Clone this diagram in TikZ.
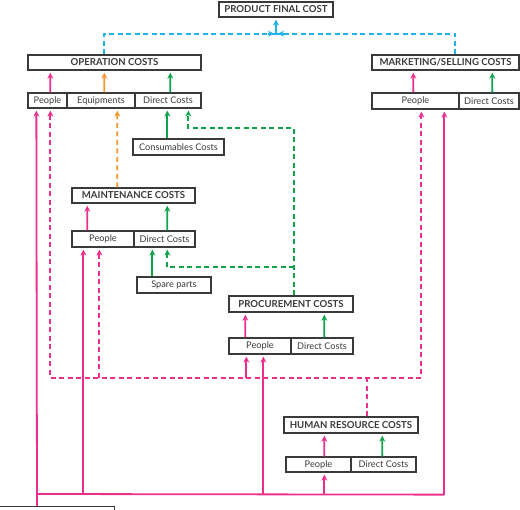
\documentclass[tikz,border=0pt]{standalone}
\usepackage{fontspec}
\setmainfont{Lato}
\usetikzlibrary{arrows.meta,calc}
\definecolor{boxc}{HTML}{3A3A3A}
\definecolor{pinkc}{HTML}{EC2F8C}
\definecolor{greenc}{HTML}{0FA34C}
\definecolor{orangec}{HTML}{F5962E}
\definecolor{bluec}{HTML}{1FB2EA}
\tikzset{
  title/.style={draw=boxc, line width=1.4pt, fill=white, inner sep=0pt, text=boxc,
    font=\bfseries\fontsize{9.6}{10}\selectfont, minimum height=15pt},
  cell/.style={draw=boxc, line width=1.3pt, fill=white, inner sep=0pt, text=boxc,
    font=\fontsize{9.2}{10}\selectfont, minimum height=15pt},
  conn/.style={line width=1.8pt, -{Stealth[length=6pt,width=6pt]}, shorten >=2pt},
  plain/.style={line width=1.8pt},
  pk/.style={draw=pinkc},
  gn/.style={draw=greenc},
  og/.style={draw=orangec},
  bl/.style={draw=bluec},
  dsh/.style={dash pattern=on 5pt off 3.5pt},
}
\begin{document}
\begin{tikzpicture}[x=1pt,y=-1pt]
\useasboundingbox (0,0) rectangle (520,510);
% nodes
\node[title, minimum width=114pt] (pfc) at (276,9.5) {PRODUCT FINAL COST};
\node[title, minimum width=173pt] (opc) at (114.5,62.5) {OPERATION COSTS};
\node[cell, minimum width=39pt] (opp) at (47.5,100.5) {People};
\node[cell, minimum width=68pt] (ope) at (101,100.5) {Equipments};
\node[cell, minimum width=66pt] (opd) at (168,100.5) {Direct Costs};
\node[title, minimum width=147pt] (mkt) at (445.5,62.5) {MARKETING/SELLING COSTS};
\node[cell, minimum width=87pt, minimum height=16pt] (mkp) at (415.5,101) {People};
\node[cell, minimum width=60pt, minimum height=16pt] (mkd) at (489,101) {Direct Costs};
\node[cell, minimum width=91pt, minimum height=16pt] (cons) at (178.5,147) {Consumables Costs};
\node[title, minimum width=123pt] (mnt) at (133.5,195.5) {MAINTENANCE COSTS};
\node[cell, minimum width=62pt, minimum height=16pt] (mnp) at (103,239) {People};
\node[cell, minimum width=61pt, minimum height=16pt] (mnd) at (164.5,239) {Direct Costs};
\node[cell, minimum width=74pt, minimum height=16pt] (spare) at (174,285) {Spare parts};
\node[title, minimum width=124pt, minimum height=16pt] (prc) at (291,304) {PROCUREMENT COSTS};
\node[cell, minimum width=62pt, minimum height=16pt] (prp) at (260,346) {People};
\node[cell, minimum width=62pt, minimum height=16pt] (prd) at (322,346) {Direct Costs};
\node[title, minimum width=134pt, minimum height=16pt] (hr) at (351,425) {HUMAN RESOURCE COSTS};
\node[cell, minimum width=65pt] (hrp) at (318.5,464.5) {People};
\node[cell, minimum width=65pt] (hrd) at (383.5,464.5) {Direct Costs};
\node[title, minimum width=124pt, minimum height=20pt, anchor=north west] (bot) at (-10,506) {};
% blue dashed to product final cost
\coordinate (bj) at ($(pfc.south)+(0,16)$);
\draw[bl,plain,dsh] ($(opc.north west)+(77,0)$) |- (bj);
\draw[bl,conn] ($(bj)+(-8,0)$) -- (bj);
\draw[bl,plain,dsh] ($(mkt.north west)+(84,0)$) |- (bj);
\draw[bl,conn] ($(bj)+(8,0)$) -- (bj);
\draw[bl,conn] (bj) -- (pfc.south);
% sub cells to parents
\draw[pk,conn] ($(opp.north west)+(23,0)$) -- ($(opc.south west)+(23,0)$);
\draw[og,conn] ($(ope.north west)+(38,0)$) -- ($(opc.south west)+(77,0)$);
\draw[gn,conn] ($(opd.north west)+(36,0)$) -- ($(opc.south west)+(143,0)$);
\draw[pk,conn] ($(mkp.north west)+(42,0)$) -- ($(mkt.south west)+(42,0)$);
\draw[gn,conn] ($(mkd.north west)+(34,0)$) -- ($(mkt.south west)+(121,0)$);
\draw[pk,conn] ($(mnp.north west)+(16,0)$) -- ($(mnt.south west)+(16,0)$);
\draw[gn,conn] ($(mnd.north west)+(34,0)$) -- ($(mnt.south west)+(96,0)$);
\draw[pk,conn] ($(prp.north west)+(17,0)$) -- ($(prc.south west)+(17,0)$);
\draw[gn,conn] ($(prd.north west)+(34,0)$) -- ($(prc.south west)+(96,0)$);
\draw[pk,conn] ($(hrp.north west)+(39,0)$) -- ($(hr.south west)+(41,0)$);
\draw[gn,conn] ($(hrd.north west)+(32,0)$) -- ($(hr.south west)+(99,0)$);
% consumables and spare parts
\draw[gn,conn] ($(cons.north west)+(35,0)$) -- ($(opd.south west)+(33,0)$);
\draw[gn,conn] ($(spare.north west)+(16,0)$) -- ($(mnd.south west)+(19,0)$);
% green dashed from procurement
\coordinate (gtop) at ($(prc.north west)+(66,-167)$);
\coordinate (gmid) at ($(prc.north west)+(66,-28)$);
\draw[gn,plain,dsh] ($(prc.north west)+(66,0)$) -- (gtop) -| ($(opd.south west)+(54,6)$);
\draw[gn,conn] ($(opd.south west)+(54,6)$) -- ($(opd.south west)+(54,0)$);
\draw[gn,plain,dsh] (gmid) -| ($(mnd.south west)+(34,6)$);
\draw[gn,conn] ($(mnd.south west)+(34,6)$) -- ($(mnd.south west)+(34,0)$);
% orange dashed maintenance to equipments
\draw[og,plain,dsh] ($(mnt.north west)+(46,0)$) -- ($(ope.south west)+(51,6)$);
\draw[og,conn] ($(ope.south west)+(51,6)$) -- ($(ope.south west)+(51,0)$);
% pink dashed from human resources
\coordinate (hj) at ($(hr.north west)+(84,-40)$);
\coordinate (pl) at ($(opp.south west)+(23,269)$);
\coordinate (pr) at ($(mkp.south west)+(50,268)$);
\draw[pk,plain,dsh] ($(hr.north west)+(84,0)$) -- (hj);
\draw[pk,plain,dsh] ($(opp.south west)+(23,6)$) -- (pl) -- (pr) -- ($(mkp.south west)+(50,6)$);
\draw[pk,plain,dsh] ($(mnp.south west)+(28,6)$) -- ($(mnp.south west)+(28,130)$);
\draw[pk,conn] ($(opp.south west)+(23,6)$) -- ($(opp.south west)+(23,0)$);
\draw[pk,conn] ($(mnp.south west)+(28,6)$) -- ($(mnp.south west)+(28,0)$);
\draw[pk,conn] ($(mkp.south west)+(50,6)$) -- ($(mkp.south west)+(50,0)$);
\draw[pk,conn] ($(prp.south west)+(18,23)$) -- ($(prp.south west)+(18,0)$);
% pink solid bottom bus
\coordinate (bl) at ($(bot.north west)+(47,-12)$);
\coordinate (br) at ($(mkp.south west)+(73,385)$);
\draw[pk,plain] (bl) -- (br);
\draw[pk,conn] ($(bot.north west)+(47,0)$) -- ($(opp.south west)+(9,0)$);
\draw[pk,conn] (br) -- ($(mkp.south west)+(73,0)$);
\draw[pk,conn] ($(mnp.south west)+(12,247)$) -- ($(mnp.south west)+(12,0)$);
\draw[pk,conn] ($(prp.south west)+(35,140)$) -- ($(prp.south west)+(35,0)$);
\draw[pk,conn] ($(hrp.south west)+(39,22)$) -- ($(hrp.south west)+(39,0)$);
\end{tikzpicture}
\end{document}
